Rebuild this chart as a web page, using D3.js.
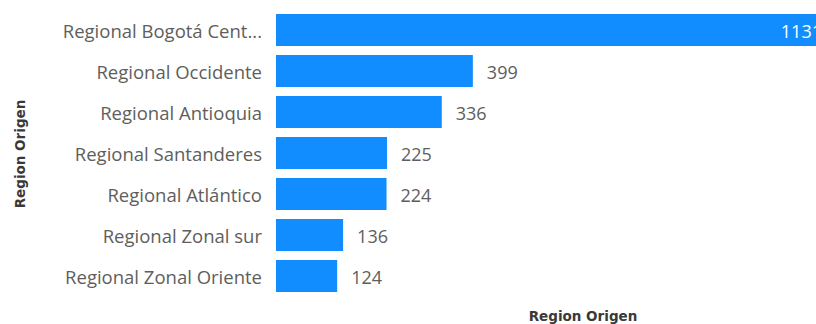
<!DOCTYPE html>
<html>
<head>
<meta charset="utf-8">
<script src="https://cdn.jsdelivr.net/npm/d3@7"></script>
<style>
  body { margin: 0; background: #fff; }
  svg { display: block; }
</style>
</head>
<body>
<div id="chart"></div>
<script>
// Region Origen - horizontal bars
const categories = [
    'Regional Bogotá Cent...',
    'Regional Occidente',
    'Regional Antioquia',
    'Regional Santanderes',
    'Regional Atlántico',
    'Regional Zonal sur',
    'Regional Zonal Oriente'
];
const values = [1131, 399, 336, 225, 224, 136, 124];
const axisTitle = 'Region Origen';

const width = 816;
const height = 324;
const barColor = '#118DFF';
const labelColor = '#605E5C';
const font = '"Open Sans", "Noto Sans", sans-serif';

const svg = d3.select('#chart')
    .append('svg')
    .attr('width', width)
    .attr('height', height);

const x = d3.scaleLinear()
    .domain([0, d3.max(values)])
    .range([276, 834]);

const y = d3.scaleBand()
    .domain(categories)
    .range([9.5, 296.5])
    .paddingInner(0.22)
    .paddingOuter(0.11);

const rows = categories.map((c, i) => ({ name: c, value: values[i] }));

// Bars
svg.append('g').selectAll('rect')
    .data(rows)
    .enter()
    .append('rect')
    .attr('x', x(0))
    .attr('y', d => y(d.name))
    .attr('width', d => x(d.value) - x(0))
    .attr('height', y.bandwidth())
    .attr('fill', barColor);

// Category labels
svg.append('g').selectAll('text')
    .data(rows)
    .enter()
    .append('text')
    .attr('x', 262)
    .attr('y', d => y(d.name) + y.bandwidth() / 2 + 1.5)
    .attr('dy', '0.35em')
    .attr('text-anchor', 'end')
    .attr('fill', labelColor)
    .attr('font-family', font)
    .attr('font-size', '18.5px')
    .text(d => d.name);

// Data labels: inside the bar when it runs off the plot, else after it
svg.append('g').selectAll('text')
    .data(rows)
    .enter()
    .append('text')
    .attr('x', d => x(d.value) > width ? x(d.value) - 12 : x(d.value) + 14)
    .attr('y', d => y(d.name) + y.bandwidth() / 2 + 2)
    .attr('dy', '0.35em')
    .attr('text-anchor', d => x(d.value) > width ? 'end' : 'start')
    .attr('fill', d => x(d.value) > width ? '#fff' : labelColor)
    .attr('font-family', font)
    .attr('font-size', '18px')
    .text(d => d.value);

// Axis titles
svg.append('text')
    .attr('x', 583)
    .attr('y', 321)
    .attr('text-anchor', 'middle')
    .attr('fill', '#3a3938')
    .attr('font-family', '"DejaVu Sans", sans-serif')
    .attr('font-weight', 'bold')
    .attr('font-size', '13.5px')
    .text(axisTitle);

svg.append('text')
    .attr('transform', 'translate(25,154) rotate(-90)')
    .attr('text-anchor', 'middle')
    .attr('fill', '#3a3938')
    .attr('font-family', '"DejaVu Sans", sans-serif')
    .attr('font-weight', 'bold')
    .attr('font-size', '13.5px')
    .text(axisTitle);
</script>
</body>
</html>
